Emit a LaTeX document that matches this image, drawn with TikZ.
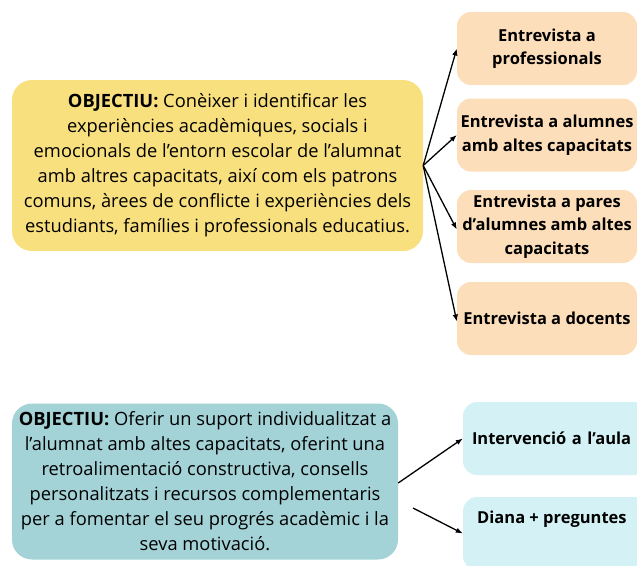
\documentclass[tikz,border=0pt]{standalone}
\usepackage{fontspec}
\setmainfont{Open Sans}
\usepackage{xcolor}
\usepackage{tikz}
\usetikzlibrary{positioning,calc,arrows.meta}

\definecolor{objyellow}{RGB}{249,224,126}
\definecolor{intpeach}{RGB}{253,222,186}
\definecolor{objteal}{RGB}{163,210,215}
\definecolor{actcyan}{RGB}{212,242,246}

\begin{document}
\begin{tikzpicture}[x=1pt,y=-1pt,
    objbox/.style={rounded corners=20pt, inner sep=0pt, align=center,
        font=\fontsize{18.3}{25}\selectfont},
    itembox/.style={rounded corners=14pt, inner sep=0pt, align=center,
        fill=intpeach, minimum width=180pt, minimum height=73pt,
        font=\bfseries\fontsize{16.5}{23.5}\selectfont},
    actbox/.style={itembox, fill=actcyan, minimum width=190pt,
        text width=172pt, inner xsep=9pt, align=left},
    link/.style={-{Latex[length=7pt,width=5.5pt]}, line width=1.3pt}]
    \clip (0,0) rectangle (637,565);

    % top part
    \node[objbox, fill=objyellow, minimum width=411pt, minimum height=171pt] (obj1) at (217.5,165.5)
        {\textbf{OBJECTIU:} Conèixer i identificar les\\
         experiències acadèmiques, socials i\\
         emocionals de l’entorn escolar de l’alumnat\\
         amb altres capacitats, així com els patrons\\
         comuns, àrees de conflicte i experiències dels\\
         estudiants, famílies i professionals educatius.};

    \node[itembox] (prof) at (547,48.5) {Entrevista a\\professionals};
    \node[itembox] (alum) at (547,135) {Entrevista a alumnes\\amb altes capacitats};
    \node[itembox] (pares) at (547,226.5) {Entrevista a pares\\d’alumnes amb altes\\capacitats};
    \node[itembox] (doc) at (547,318.5) {Entrevista a docents};

    \draw[link] (obj1.east) -- (prof.west);
    \draw[link] (obj1.east) -- (alum.west);
    \draw[link] (obj1.east) -- ([yshift=-3pt]pares.west);
    \draw[link] (obj1.east) -- ([yshift=-3pt]doc.west);

    % bottom part
    \node[objbox, fill=objteal, minimum width=386pt, minimum height=156pt] (obj2) at (205,481.5)
        {\textbf{OBJECTIU:} Oferir un suport individualitzat a\\
         l’alumnat amb altes capacitats, oferint una\\
         retroalimentació constructiva, consells\\
         personalitzats i recursos complementaris\\
         per a fomentar el seu progrés acadèmic i la\\
         seva motivació.};

    \node[actbox] (aula) at (558,438.5) {Intervenció a l’aula};
    \node[actbox] (diana) at (558,533.5) {};
    \node[font=\bfseries\fontsize{16.5}{23.5}\selectfont, anchor=west, inner sep=0pt] (dianatxt) at (477,519) {Diana + preguntes};

    \coordinate (dstart) at (413,508);
    \draw[link] ([yshift=-1.5pt]obj2.east) -- (aula.west);
    \draw[link] (dstart) -- (diana.west);
\end{tikzpicture}
\end{document}
